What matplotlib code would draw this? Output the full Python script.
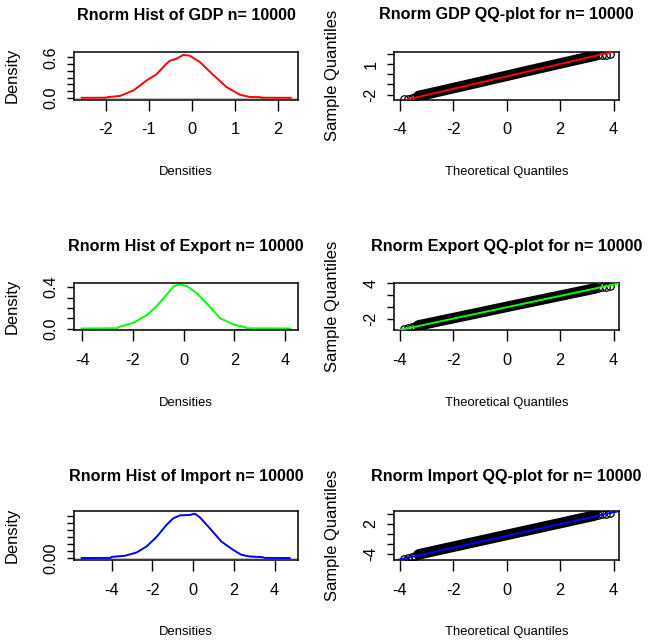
import matplotlib
matplotlib.use("Agg")
import matplotlib.pyplot as plt
from matplotlib import font_manager

# ---------------- data ----------------
titles_hist = ["Rnorm Hist of GDP n= 10000", "Rnorm Hist of Export n= 10000",
               "Rnorm Hist of Import n= 10000"]
titles_qq = ["Rnorm GDP QQ-plot for n= 10000", "Rnorm Export QQ-plot for n= 10000",
             "Rnorm Import QQ-plot for n= 10000"]
colors = ["#FF0000", "#00FF00", "#0000FF"]

# density curves (x, density)
gdp_dx = [-2.56, -2.0, -1.95, -1.67, -1.36, -1.05, -0.82, -0.6, -0.51, -0.36, -0.2,
          -0.05, 0.19, 0.5, 0.81, 1.12, 1.35, 1.58, 1.62, 2.30]
gdp_dy = [0.002, 0.004, 0.012, 0.03, 0.11, 0.26, 0.35, 0.50, 0.55, 0.58, 0.636,
          0.626, 0.53, 0.34, 0.16, 0.048, 0.014, 0.012, 0.004, 0.002]
exp_dx = [-4.01, -2.62, -2.57, -1.97, -1.45, -1.05, -0.66, -0.39, -0.13, 0.13, 0.53,
          0.92, 1.45, 1.97, 2.43, 2.48, 4.21]
exp_dy = [0.002, 0.004, 0.016, 0.058, 0.13, 0.22, 0.33, 0.41, 0.426, 0.41, 0.34,
          0.24, 0.10, 0.04, 0.016, 0.004, 0.002]
imp_dx = [-5.47, -4.05, -4.0, -3.35, -2.78, -2.29, -1.80, -1.31, -0.98, -0.65, -0.16,
          0.08, 0.33, 0.82, 1.39, 1.96, 2.37, 2.78, 3.43, 3.5, 4.74]
imp_dy = [0.001, 0.002, 0.009, 0.017, 0.04, 0.083, 0.15, 0.236, 0.283, 0.304, 0.307,
          0.316, 0.29, 0.212, 0.118, 0.059, 0.024, 0.012, 0.007, 0.002, 0.001]

hist_xlim = [(-2.74, 2.47), (-4.32, 4.51), (-5.85, 5.15)]
hist_ylim = [(-0.026, 0.68), (-0.017, 0.443), (-0.013, 0.333)]
hist_xticks = [[-2, -1, 0, 1, 2], [-4, -2, 0, 2, 4], [-4, -2, 0, 2, 4]]
hist_yticks = [[0.0, 0.1, 0.2, 0.3, 0.4, 0.5, 0.6], [0.0, 0.1, 0.2, 0.3, 0.4],
               [0.0, 0.05, 0.10, 0.15, 0.20, 0.25, 0.30]]
hist_ylabels = [["0.0", "", "", "", "", "", "0.6"], ["0.0", "", "", "", "0.4"],
                ["0.00", "", "", "", "", "", ""]]

# QQ plots: band of sorted sample vs theoretical quantiles
qq_x = [-3.3, -3.0, -2.5, -2.0, -1.5, -1.0, -0.5, 0.0, 0.5, 1.0, 1.5, 2.0, 2.5, 3.0, 3.3]
gdp_qy = [-2.13, -1.96, -1.66, -1.36, -1.06, -0.76, -0.45, -0.15, 0.16, 0.46, 0.76,
          1.06, 1.36, 1.66, 1.82]
exp_qy = [-3.11, -2.84, -2.36, -1.89, -1.41, -0.94, -0.46, 0.02, 0.49, 0.96, 1.43,
          1.90, 2.37, 2.84, 3.13]
imp_qy = [-4.17, -3.80, -3.20, -2.61, -2.01, -1.42, -0.82, -0.23, 0.37, 0.96, 1.56,
          2.15, 2.75, 3.34, 3.70]
tail_x = [-3.85, -3.7, -3.55, -3.42, 3.42, 3.55, 3.7, 3.85]
gdp_tail = [-2.45, -2.39, -2.32, -2.22, 1.86, 1.90, 1.94, 1.99]
exp_tail = [-3.68, -3.56, -3.45, -3.30, 3.22, 3.33, 3.45, 3.62]
imp_tail = [-5.00, -4.85, -4.68, -4.52, 3.86, 3.95, 4.05, 4.18]
qq_line = [(-0.21, 0.61), (-0.05, 0.96), (-0.42, 1.19)]   # (intercept, slope)

qq_xlim = (-4.21, 4.19)
qq_xticks = [-4, -2, 0, 2, 4]
qq_ylim = [(-2.5, 2.19), (-3.98, 4.1), (-5.29, 4.54)]
qq_yticks = [[-2, -1, 0, 1, 2], [-2, 0, 2, 4], [-4, -2, 0, 2, 4]]
qq_ylabels = [["-2", "", "", "1", ""], ["-2", "", "", "4"], ["-4", "", "", "2", ""]]

# ---------------- fonts ----------------
names = {f.name for f in font_manager.fontManager.ttflist}
if "Liberation Sans Narrow" in names:
    hfam = ["Liberation Sans Narrow", "Liberation Sans", "DejaVu Sans"]
    title_size, xlab_size = 14.0, 11.5
else:
    hfam = ["Liberation Sans", "DejaVu Sans"]
    title_size, xlab_size = 11.6, 9.4
plt.rcParams["font.family"] = ["Liberation Sans", "DejaVu Sans"]

W, H = 656, 643
fig = plt.figure(figsize=(W / 100, H / 100), dpi=100)

rows_px = [(52, 99.7), (282.7, 330.5), (511.3, 560)]
title_y = [15, 246.7, 477]
xlab_y = [172, 403.3, 631.7]
hist_l, hist_r = 74, 298
qq_l, qq_r = 394.3, 618.7

dens = [(gdp_dx, gdp_dy), (exp_dx, exp_dy), (imp_dx, imp_dy)]
qqys = [gdp_qy, exp_qy, imp_qy]
tails = [gdp_tail, exp_tail, imp_tail]


def style(ax):
    for s in ax.spines.values():
        s.set_linewidth(1.1)
        s.set_color("black")
    ax.tick_params(axis="x", length=7.9, width=1.0, pad=8.5, labelsize=11.8)
    ax.tick_params(axis="y", length=5.4, width=1.0, pad=6.0, labelsize=11.6,
                   labelrotation=90)
    for lbl in ax.get_yticklabels():
        lbl.set_va("center")


for i in range(3):
    top, bot = rows_px[i]
    b = 1 - bot / H
    h = (bot - top) / H
    # ----- density panel -----
    ax = fig.add_axes([hist_l / W, b, (hist_r - hist_l) / W, h])
    ax.axhline(0, color="#BEBEBE", lw=0.8, zorder=1)
    ax.plot(dens[i][0], dens[i][1], color=colors[i], lw=1.4, zorder=2)
    ax.set_xlim(*hist_xlim[i])
    ax.set_ylim(*hist_ylim[i])
    ax.set_xticks(hist_xticks[i])
    ax.set_xticklabels([str(t) for t in hist_xticks[i]])
    ax.set_yticks(hist_yticks[i])
    ax.set_yticklabels(hist_ylabels[i])
    style(ax)
    ax.set_ylabel("Density", fontsize=11.9)
    ax.yaxis.set_label_coords(-0.241, 0.5)
    fig.text((hist_l + hist_r) / 2 / W, 1 - title_y[i] / H, titles_hist[i],
             ha="center", va="center", fontsize=title_size, fontweight="bold",
             family=hfam)
    fig.text((hist_l + hist_r) / 2 / W, 1 - xlab_y[i] / H, "Densities",
             ha="center", va="center", fontsize=xlab_size, family=hfam)

    # ----- QQ panel -----
    ax = fig.add_axes([qq_l / W, b, (qq_r - qq_l) / W, h])
    ax.plot(qq_x, qqys[i], color="black", lw=7.6, solid_capstyle="round", zorder=2)
    ax.plot(tail_x, tails[i], linestyle="none", marker="o", ms=5.4, mfc="none",
            mec="black", mew=0.9, zorder=2)
    ax.axline((0, qq_line[i][0]), slope=qq_line[i][1], color=colors[i], lw=1.4,
              zorder=3)
    ax.set_xlim(*qq_xlim)
    ax.set_ylim(*qq_ylim[i])
    ax.set_xticks(qq_xticks)
    ax.set_xticklabels([str(t) for t in qq_xticks])
    ax.set_yticks(qq_yticks[i])
    ax.set_yticklabels(qq_ylabels[i])
    style(ax)
    ax.set_ylabel("Sample Quantiles", fontsize=11.9)
    ax.yaxis.set_label_coords(-0.242, 0.5)
    fig.text((qq_l + qq_r) / 2 / W, 1 - title_y[i] / H, titles_qq[i],
             ha="center", va="center", fontsize=title_size, fontweight="bold",
             family=hfam)
    fig.text((qq_l + qq_r) / 2 / W, 1 - xlab_y[i] / H, "Theoretical Quantiles",
             ha="center", va="center", fontsize=xlab_size, family=hfam)

fig.savefig("out.png", dpi=100)
